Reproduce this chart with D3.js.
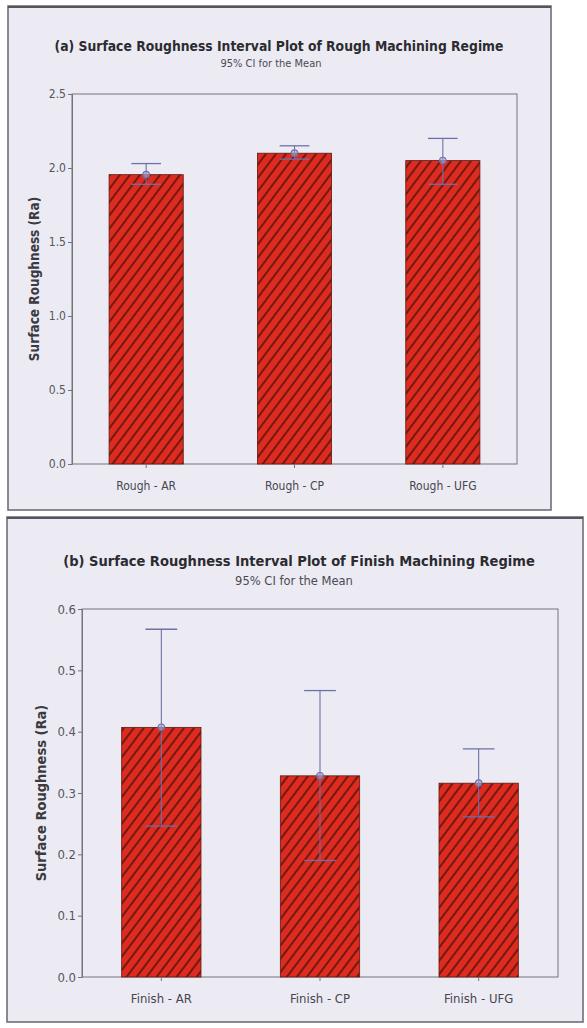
<!DOCTYPE html>
<html>
<head>
<meta charset="utf-8">
<script src="https://cdn.jsdelivr.net/npm/d3@7/dist/d3.min.js"></script>
<style>
  html, body { margin: 0; padding: 0; background: #ffffff; }
  svg { display: block; }
</style>
</head>
<body>
<svg id="chart" width="587" height="1028"></svg>
<script>
// ---------- DATA ----------
const roughCategories = ["Rough - AR", "Rough - CP", "Rough - UFG"];
const roughMean  = [1.955, 2.10, 2.05];
const roughLower = [1.89, 2.06, 1.89];
const roughUpper = [2.03, 2.15, 2.20];
const roughTicks = [0.0, 0.5, 1.0, 1.5, 2.0, 2.5];

const finishCategories = ["Finish - AR", "Finish - CP", "Finish - UFG"];
const finishMean  = [0.407, 0.328, 0.316];
const finishLower = [0.246, 0.190, 0.261];
const finishUpper = [0.567, 0.467, 0.372];
const finishTicks = [0.0, 0.1, 0.2, 0.3, 0.4, 0.5, 0.6];

const titles = [
  "(a) Surface Roughness Interval Plot of Rough Machining Regime",
  "(b) Surface Roughness Interval Plot of Finish Machining Regime"
];
const subtitle = "95% CI for the Mean";
const yTitle = "Surface Roughness (Ra)";

// ---------- STYLE / LAYOUT ----------
const FONT = "'DejaVu Sans Condensed', 'DejaVu Sans', sans-serif";
const panelBg = "#ecebf4";
const barRed = "#de2b1f";
const hatchCol = "#4e120c";
const ciCol = "#6d71a8";

const svg = d3.select("#chart");
const defs = svg.append("defs");
const pat = defs.append("pattern")
  .attr("id", "hatch")
  .attr("patternUnits", "userSpaceOnUse")
  .attr("width", 8).attr("height", 8)
  .attr("patternTransform", "rotate(37)");
pat.append("rect").attr("width", 8).attr("height", 8).attr("fill", barRed);
pat.append("line").attr("x1", 1).attr("y1", 0).attr("x2", 1).attr("y2", 8)
  .attr("stroke", hatchCol).attr("stroke-width", 1.5);

const panels = [
  {
    cats: roughCategories, mean: roughMean, lo: roughLower, hi: roughUpper,
    ticks: roughTicks, domain: [0, 2.5], fmt: d3.format(".1f"),
    title: titles[0],
    frame: {x: 8, y: 6, w: 543, h: 504},
    plot: {l: 72, r: 517, t: 94, b: 464},
    titleX: 279, titleY: 51, titleW: 449,
    subX: 271, subY: 67, subW: 101,
    yLabX: 35, tickSize: 12, yTitleSize: 13.5, xLabY: 490
  },
  {
    cats: finishCategories, mean: finishMean, lo: finishLower, hi: finishUpper,
    ticks: finishTicks, domain: [0, 0.6], fmt: d3.format(".1f"),
    title: titles[1],
    frame: {x: 7, y: 517, w: 576, h: 505},
    plot: {l: 82, r: 558, t: 609, b: 977},
    titleX: 299, titleY: 566, titleW: 472,
    subX: 294, subY: 585, subW: 118,
    yLabX: 42, tickSize: 13, yTitleSize: 14.5, xLabY: 1003
  }
];

// size a text so that its natural width equals the wanted width
function fitWidth(sel, wanted) {
  sel.attr("font-size", 20);
  const w = sel.node().getComputedTextLength();
  sel.attr("font-size", (20 * wanted / w).toFixed(2));
}

panels.forEach(p => {
  const g = svg.append("g");
  // panel frame
  g.append("rect")
    .attr("x", p.frame.x).attr("y", p.frame.y)
    .attr("width", p.frame.w).attr("height", p.frame.h)
    .attr("fill", panelBg).attr("stroke", "#6f6f78").attr("stroke-width", 1.6);
  g.append("line")
    .attr("x1", p.frame.x).attr("x2", p.frame.x + p.frame.w)
    .attr("y1", p.frame.y + 1).attr("y2", p.frame.y + 1)
    .attr("stroke", "#55555c").attr("stroke-width", 2.2);

  // titles
  const t = g.append("text")
    .attr("x", p.titleX).attr("y", p.titleY)
    .attr("text-anchor", "middle")
    .attr("font-family", FONT).attr("font-weight", "bold")
    .attr("fill", "#2b2b30")
    .text(p.title);
  fitWidth(t, p.titleW);
  const s = g.append("text")
    .attr("x", p.subX).attr("y", p.subY)
    .attr("text-anchor", "middle")
    .attr("font-family", FONT)
    .attr("fill", "#4a4a52")
    .text(subtitle);
  fitWidth(s, p.subW);

  const x = d3.scaleBand().domain(p.cats)
    .range([p.plot.l, p.plot.r])
    .paddingInner(0.5).paddingOuter(0.25);
  const y = d3.scaleLinear().domain(p.domain).range([p.plot.b, p.plot.t]);

  // plot area
  g.append("rect")
    .attr("x", p.plot.l).attr("y", p.plot.t)
    .attr("width", p.plot.r - p.plot.l).attr("height", p.plot.b - p.plot.t)
    .attr("fill", panelBg).attr("stroke", "#74747c").attr("stroke-width", 1);

  // bars
  const data = p.cats.map((c, i) => ({c, m: p.mean[i], lo: p.lo[i], hi: p.hi[i]}));
  g.selectAll(".bar").data(data).enter().append("rect")
    .attr("x", d => x(d.c)).attr("width", x.bandwidth())
    .attr("y", d => y(d.m)).attr("height", d => y(0) - y(d.m))
    .attr("fill", "url(#hatch)").attr("stroke", "#5a1a12").attr("stroke-width", 0.8);

  // CI intervals
  const capW = x.bandwidth() * 0.4;
  const cx = d => x(d.c) + x.bandwidth() / 2;
  const ci = g.selectAll(".ci").data(data).enter().append("g");
  ci.append("line")
    .attr("x1", cx).attr("x2", cx)
    .attr("y1", d => y(d.lo)).attr("y2", d => y(d.hi))
    .attr("stroke", ciCol).attr("stroke-width", 1.1);
  ci.append("line")
    .attr("x1", d => cx(d) - capW / 2).attr("x2", d => cx(d) + capW / 2)
    .attr("y1", d => y(d.hi)).attr("y2", d => y(d.hi))
    .attr("stroke", ciCol).attr("stroke-width", 1.3);
  ci.append("line")
    .attr("x1", d => cx(d) - capW / 2).attr("x2", d => cx(d) + capW / 2)
    .attr("y1", d => y(d.lo)).attr("y2", d => y(d.lo))
    .attr("stroke", ciCol).attr("stroke-width", 1.3);
  ci.append("circle")
    .attr("cx", cx).attr("cy", d => y(d.m))
    .attr("r", 3.3)
    .attr("fill", "#a9a2cf").attr("fill-opacity", 0.6)
    .attr("stroke", ciCol).attr("stroke-width", 1.1);

  // y axis
  const yAxis = g.append("g")
    .attr("transform", `translate(${p.plot.l},0)`)
    .call(d3.axisLeft(y).tickValues(p.ticks).tickFormat(p.fmt).tickSize(4).tickPadding(2));
  yAxis.select(".domain").attr("stroke", "#74747c");
  yAxis.selectAll(".tick line").attr("stroke", "#74747c");
  yAxis.selectAll("text").attr("font-family", FONT).attr("font-size", p.tickSize).attr("fill", "#55555c");

  // x axis
  const xAxis = g.append("g")
    .attr("transform", `translate(0,${p.plot.b})`)
    .call(d3.axisBottom(x).tickSize(4).tickPadding(0));
  xAxis.select(".domain").remove();
  xAxis.selectAll(".tick line").attr("stroke", "#74747c");
  xAxis.selectAll("text")
    .attr("y", p.xLabY - p.plot.b).attr("dy", 0)
    .attr("font-family", FONT).attr("font-size", p.tickSize).attr("fill", "#46464e");

  // y title
  g.append("text")
    .attr("transform", `translate(${p.yLabX},${(p.plot.t + p.plot.b) / 2}) rotate(-90)`)
    .attr("text-anchor", "middle").attr("dominant-baseline", "middle")
    .attr("font-family", FONT).attr("font-weight", "bold")
    .attr("font-size", p.yTitleSize).attr("fill", "#3a3a40")
    .text(yTitle);
});
</script>
</body>
</html>
